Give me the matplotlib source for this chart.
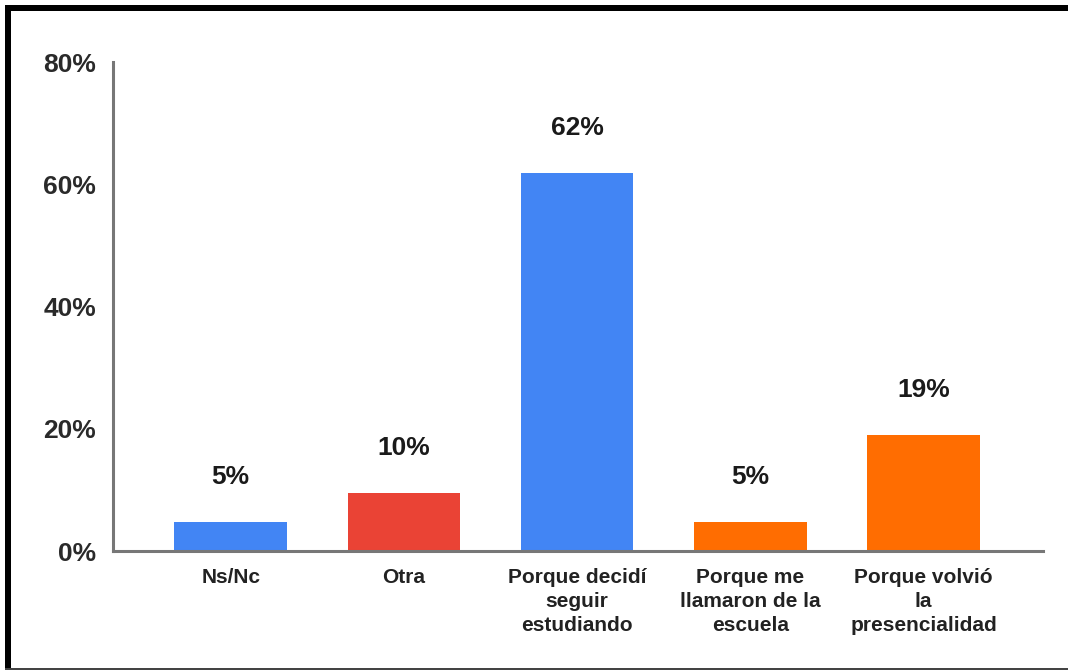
import matplotlib.pyplot as plt
from matplotlib.patches import Rectangle

categories = ['Ns/Nc', 'Otra', 'Porque decidí\nseguir\nestudiando',
              'Porque me\nllamaron de la\nescuela', 'Porque volvió\nla\npresencialidad']
values = [4.76, 9.52, 61.90, 4.76, 19.05]
colors = ['#4285F4', '#EA4335', '#4285F4', '#FF6D01', '#FF6D01']
yticks = [0, 20, 40, 60, 80]

plt.rcParams['font.family'] = ['Liberation Sans', 'DejaVu Sans']

fig = plt.figure(figsize=(10.68, 6.71), dpi=100)
ax = fig.add_axes([0.1058, 0.1788, 0.8708, 0.7288])

x = range(len(categories))
ax.bar(x, values, width=0.65, color=colors, zorder=2)
for xi, v in zip(x, values):
    ax.annotate('{:.0f}%'.format(v), (xi, v), xytext=(0, 32), textcoords='offset points',
                ha='center', va='center', fontsize=19, fontweight='bold', color='#1a1a1a')

ax.set_xlim(-0.68, 4.69)
ax.set_ylim(0, 80)
ax.set_yticks(yticks)
ax.set_yticklabels(['{}%'.format(t) for t in yticks], fontsize=19, fontweight='bold',
                   color='#2a2a2a')
ax.set_xticks(list(x))
ax.set_xticklabels(categories, fontsize=15, fontweight='bold', color='#222222', linespacing=1.35)
ax.tick_params(axis='y', length=0, pad=12)
ax.tick_params(axis='x', length=0, pad=12)

for s in ['top', 'right']:
    ax.spines[s].set_visible(False)
for s in ['left', 'bottom']:
    ax.spines[s].set_color('#777777')
    ax.spines[s].set_linewidth(2.2)
ax.spines['bottom'].set_zorder(3)

# image frame
fig.add_artist(Rectangle((5 / 1068, 1 - 11 / 671), 1, 6 / 671, transform=fig.transFigure,
                         color='black', lw=0))
fig.add_artist(Rectangle((5 / 1068, 2 / 671), 6 / 1068, 1 - 7 / 671, transform=fig.transFigure,
                         color='black', lw=0))
fig.add_artist(Rectangle((5 / 1068, 1 / 671), 1, 2 / 671, transform=fig.transFigure,
                         color='#444444', lw=0))

fig.savefig('out.png', dpi=100)
